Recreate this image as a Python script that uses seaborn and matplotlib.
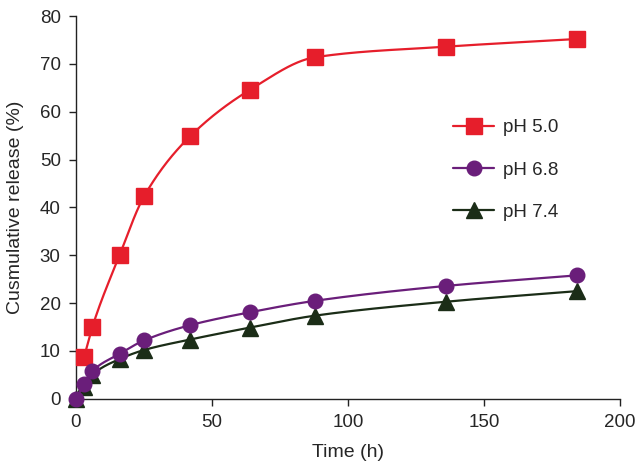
import numpy as np
import pandas as pd
import matplotlib
matplotlib.use("Agg")
import matplotlib.pyplot as plt
import seaborn as sns

time_h = [0, 3, 6, 16, 25, 42, 64, 88, 136, 184]
time_h50 = [3, 6, 16, 25, 42, 64, 88, 136, 184]
ph50 = [8.8, 15.0, 30.0, 42.3, 54.9, 64.6, 71.4, 73.6, 75.2]
ph68 = [0, 3.1, 5.8, 9.4, 12.2, 15.4, 18.1, 20.5, 23.6, 25.8]
ph74 = [0, 2.4, 5.0, 8.3, 10.2, 12.4, 14.9, 17.4, 20.3, 22.5]
labels = ["pH 5.0", "pH 6.8", "pH 7.4"]
colors = ["#E61E2B", "#6A1E7A", "#1B2D17"]
markers = ["s", "o", "^"]

sns.set_style("ticks")
plt.rcParams['font.family'] = ['Liberation Sans', 'DejaVu Sans']


def pchip(x, y, xs):
    x = np.asarray(x, float); y = np.asarray(y, float)
    h = np.diff(x); d = np.diff(y) / h
    n = len(x); m = np.zeros(n)
    for k in range(1, n - 1):
        if d[k - 1] * d[k] > 0:
            w1 = 2 * h[k] + h[k - 1]; w2 = h[k] + 2 * h[k - 1]
            m[k] = (w1 + w2) / (w1 / d[k - 1] + w2 / d[k])
    m[0] = d[0]; m[-1] = d[-1]
    out = np.empty_like(xs)
    for i, xv in enumerate(xs):
        k = min(np.searchsorted(x, xv, side='right') - 1, n - 2)
        t = (xv - x[k]) / h[k]
        h00 = 2 * t**3 - 3 * t**2 + 1; h10 = t**3 - 2 * t**2 + t
        h01 = -2 * t**3 + 3 * t**2; h11 = t**3 - t**2
        out[i] = h00 * y[k] + h10 * h[k] * m[k] + h01 * y[k + 1] + h11 * h[k] * m[k + 1]
    return out


fig = plt.figure(figsize=(6.44, 4.72), dpi=100)
ax = fig.add_axes([0.118, 0.155, 0.845, 0.811])

series = [(time_h50, ph50), (time_h, ph68), (time_h, ph74)]
zorders = [3, 5, 4]
handles = []
for (tt, vals), lab, col, mk, z in zip(series, labels, colors, markers, zorders):
    xs = np.linspace(tt[0], tt[-1], 600)
    smooth = pd.DataFrame({"t": xs, "v": pchip(tt, vals, xs)})
    sns.lineplot(data=smooth, x="t", y="v", ax=ax, color=col, lw=1.6, zorder=z)
    pts = pd.DataFrame({"t": tt, "v": vals})
    ms = 11 if mk == "s" else (10.5 if mk == "o" else 11)
    ax.plot(pts["t"], pts["v"], linestyle="none", marker=mk, color=col,
            markersize=ms, zorder=z + 0.5, clip_on=False)
    handles.append(plt.Line2D([], [], color=col, lw=1.6, marker=mk,
                              markersize=ms, label=lab))

ax.set_xlim(0, 200)
ax.set_ylim(0, 80)
ax.set_xticks([0, 50, 100, 150, 200])
ax.set_yticks(range(0, 81, 10))
ax.set_xlabel("Time (h)", fontsize=14, labelpad=9)
ax.set_ylabel("Cusmulative release (%)", fontsize=14, labelpad=11)
ax.tick_params(labelsize=13.5, length=5, width=1, color="#222222", pad=6)
for s in ["top", "right"]:
    ax.spines[s].set_visible(False)
for s in ["left", "bottom"]:
    ax.spines[s].set_linewidth(1)
    ax.spines[s].set_color("#222222")

ax.legend(handles=handles, loc="upper left", bbox_to_anchor=(0.662, 0.775),
          frameon=False, fontsize=13.5, handlelength=2.2, labelspacing=1.35,
          handletextpad=0.45)

fig.savefig("out.png", dpi=100)
